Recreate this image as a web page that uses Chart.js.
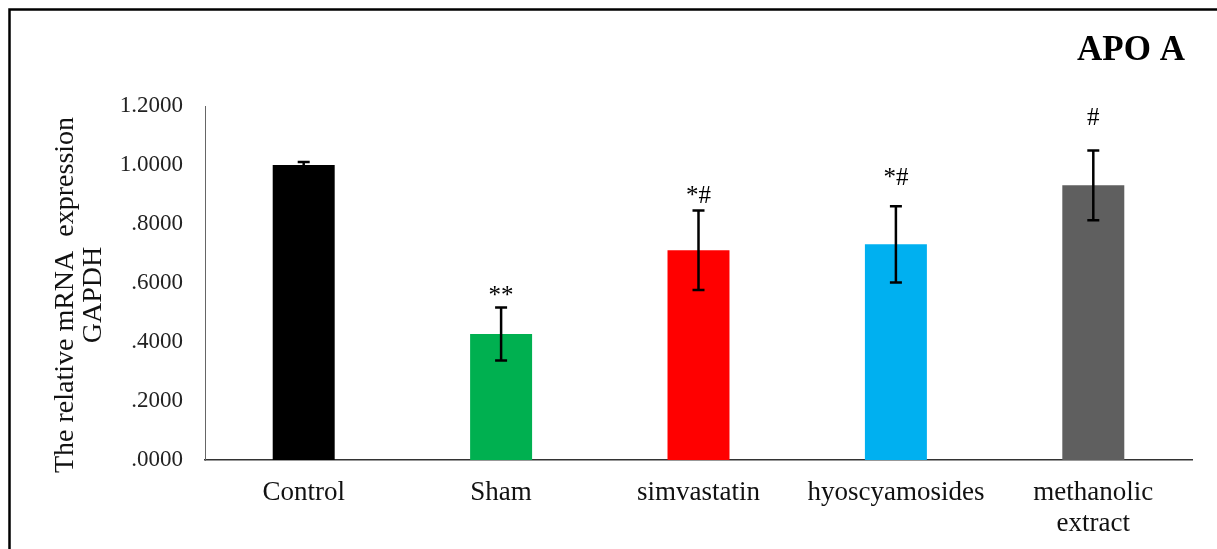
<!DOCTYPE html>
<html>
<head>
<meta charset="utf-8">
<script src="https://cdn.jsdelivr.net/npm/chart.js@4.4.1/dist/chart.umd.min.js"></script>
<style>
  html, body { margin: 0; padding: 0; background: #fff; }
  #wrap { width: 1217px; height: 549px; position: relative; }
</style>
</head>
<body>
<div id="wrap"><canvas id="apoChart"></canvas></div>
<script>
// data
const groups = ["Control", "Sham", "simvastatin", "hyoscyamosides", ["methanolic", "extract"]];
const means = [1.000, 0.427, 0.711, 0.731, 0.931];
const errors = [0.010, 0.090, 0.135, 0.129, 0.118];
const barColors = ["#000000", "#00B050", "#FF0000", "#00B0F0", "#5F5F5F"];
const marks = ["", "**", "*#", "*#", "#"];
const markLevels = [null, 0.556, 0.892, 0.953, 1.159];
const yTicks = [0, 0.2, 0.4, 0.6, 0.8, 1.0, 1.2];

const serif = "'Liberation Serif', 'Times New Roman', serif";

/* =========================
   FRAME + TITLES
========================= */
const decorPlugin = {
    id: "decor",
    beforeDraw(chart) {
        const ctx = chart.ctx;
        ctx.save();
        ctx.fillStyle = "#fff";
        ctx.fillRect(0, 0, chart.width, chart.height);
        ctx.restore();
    },
    afterDraw(chart) {
        const ctx = chart.ctx;
        ctx.save();

        // outer frame (left + top edges visible)
        ctx.strokeStyle = "#000";
        ctx.lineWidth = 2.5;
        ctx.beginPath();
        ctx.moveTo(9.5, chart.height + 5);
        ctx.lineTo(9.5, 9.5);
        ctx.lineTo(chart.width + 5, 9.5);
        ctx.stroke();

        // chart title
        ctx.fillStyle = "#000";
        ctx.font = "bold 35px " + serif;
        ctx.textAlign = "center";
        ctx.textBaseline = "alphabetic";
        ctx.fillText("APO A", 1131, 60);

        // y axis title
        ctx.translate(79, 295);
        ctx.rotate(-Math.PI / 2);
        ctx.font = "28px " + serif;
        ctx.fillStyle = "#111";
        ctx.textBaseline = "middle";
        ctx.fillText("The relative mRNA  expression", 0, -13);
        ctx.fillText("GAPDH", 0, 15);
        ctx.restore();
    }
};

/* =========================
   ERROR BARS + SIGNIFICANCE
========================= */
const errorBarPlugin = {
    id: "errorBars",
    afterDatasetsDraw(chart) {
        const ctx = chart.ctx;
        const yScale = chart.scales.y;
        const meta = chart.getDatasetMeta(0);
        ctx.save();
        ctx.strokeStyle = "#000";
        ctx.lineWidth = 2.5;
        meta.data.forEach((bar, i) => {
            const x = bar.x;
            const top = yScale.getPixelForValue(means[i] + errors[i]);
            const bot = yScale.getPixelForValue(means[i] - errors[i]);
            ctx.beginPath();
            ctx.moveTo(x, top);
            ctx.lineTo(x, bot);
            ctx.moveTo(x - 6, top);
            ctx.lineTo(x + 6, top);
            ctx.moveTo(x - 6, bot);
            ctx.lineTo(x + 6, bot);
            ctx.stroke();

            if (marks[i]) {
                ctx.fillStyle = "#000";
                ctx.font = "25px " + serif;
                ctx.textAlign = "center";
                ctx.textBaseline = "middle";
                ctx.fillText(marks[i], x, yScale.getPixelForValue(markLevels[i]));
            }
        });
        ctx.restore();
    }
};

new Chart(document.getElementById("apoChart"), {
    type: "bar",
    data: {
        labels: groups,
        datasets: [{
            data: means,
            backgroundColor: barColors,
            borderWidth: 0,
            categoryPercentage: 1.0,
            barPercentage: 0.314
        }]
    },
    options: {
        responsive: true,
        maintainAspectRatio: false,
        animation: false,
        layout: { padding: { left: 0, top: 106, right: 25, bottom: 0 } },
        plugins: {
            legend: { display: false },
            tooltip: { enabled: false }
        },
        scales: {
            x: {
                grid: { display: false, drawTicks: false },
                border: { display: true, color: "#333", width: 1.5 },
                ticks: {
                    color: "#111",
                    font: { family: serif, size: 27, lineHeight: 1.17 },
                    padding: 17,
                    maxRotation: 0,
                    autoSkip: false
                },
                afterFit(scale) { scale.height = 89; }
            },
            y: {
                min: 0,
                max: 1.2,
                grid: { display: false, drawTicks: false },
                border: { display: true, color: "#666", width: 1 },
                afterBuildTicks(scale) {
                    scale.ticks = yTicks.map(v => ({ value: v }));
                },
                ticks: {
                    color: "#222",
                    font: { family: serif, size: 23 },
                    padding: 22,
                    callback: v => Number(v).toFixed(4).replace(/^0/, "")
                },
                afterFit(scale) { scale.width = 205; }
            }
        }
    },
    plugins: [decorPlugin, errorBarPlugin]
});
</script>
</body>
</html>
